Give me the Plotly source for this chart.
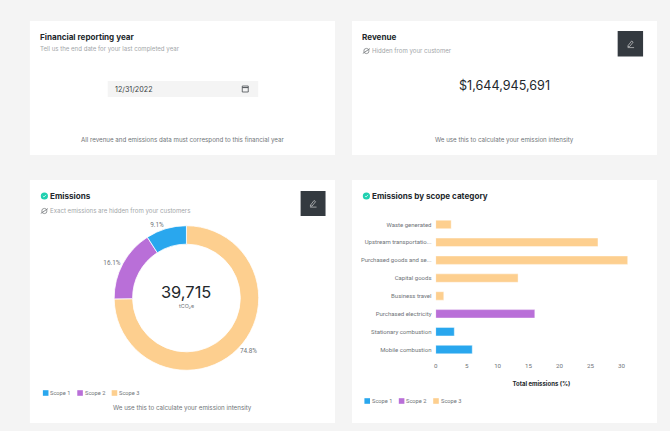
import plotly.graph_objects as go

W, H = 670, 431

scopes = ["Scope 1", "Scope 2", "Scope 3"]
scope_colors = ["#29a7ee", "#b96fd8", "#fdcf8f"]
scope_share = [9.1, 16.1, 74.8]

categories = ["Mobile combustion", "Stationary combustion", "Purchased electricity", "Business travel",
              "Capital goods", "Purchased goods and se...", "Upstream transportatio...", "Waste generated"]
scope1_cats = ["Mobile combustion", "Stationary combustion"]
scope1_vals = [5.9, 3.0]
scope2_cats = ["Purchased electricity"]
scope2_vals = [16.0]
scope3_cats = ["Business travel", "Capital goods", "Purchased goods and se...", "Upstream transportatio...", "Waste generated"]
scope3_vals = [1.3, 13.3, 31.0, 26.2, 2.5]

FONT = "Inter"
AXIS_FONT = "Roboto"
DARK = "#23282c"
GREY = "#6f7478"
LIGHT = "#a3a6a9"


def px(x):
    return (x - 1) / W


def py(y):
    return 1 - y / H


def rect(x0, y0, x1, y1, color):
    return dict(type="rect", xref="paper", yref="paper", x0=px(x0), x1=px(x1), y0=py(y0), y1=py(y1),
                fillcolor=color, line_width=0, layer="below")


def path(points, color, width=0.8, close=False, fill=None):
    d = "M " + " L ".join(f"{px(a):.5f},{py(b):.5f}" for a, b in points) + (" Z" if close else "")
    return dict(type="path", xref="paper", yref="paper", path=d, line=dict(color=color, width=width),
                fillcolor=fill, layer="above")


def circle(cx, cy, r, color, line=None):
    return dict(type="circle", xref="paper", yref="paper", x0=px(cx - r), x1=px(cx + r), y0=py(cy + r), y1=py(cy - r),
                fillcolor=color, line=dict(color=line or color, width=0.8 if line else 0), layer="above")


def label(x, y, s, size=6.2, color=GREY, anchor="left", bold=False, family=FONT):
    if anchor == "left":
        x -= 1
    return dict(xref="paper", yref="paper", x=px(x), y=py(y), text=f"<b>{s}</b>" if bold else s, showarrow=False,
                xanchor=anchor, yanchor="middle", font=dict(family=family, size=size, color=color),
                borderpad=0, borderwidth=0)


def pencil(cx, cy):
    return [path([(cx - 2.5, cy + 1.5), (cx + 1, cy - 3), (cx + 2.5, cy - 1.8), (cx - 1, cy + 2.5), (cx - 2.8, cy + 2.7)], "#e8e8e8", 0.6, True),
            path([(cx - 3, cy + 3.6), (cx + 3.5, cy + 3.6)], "#e8e8e8", 0.6)]


def hidden_eye(cx, cy):
    return [circle(cx, cy, 2.6, "rgba(0,0,0,0)", "#7d8184"),
            path([(cx - 3.6, cy + 2.4), (cx + 3.6, cy - 2.4)], "#7d8184", 0.9)]


def check(cx, cy):
    return [circle(cx, cy, 3.6, "#1fd0b0"),
            path([(cx - 1.5, cy), (cx - 0.4, cy + 1.1), (cx + 1.6, cy - 1.1)], "white", 0.7)]


shapes = [rect(-5, 0, W + 5, H, "#f4f4f4"),
          rect(29, 21, 335, 155, "white"), rect(352, 21, 658, 155, "white"),
          rect(29, 180, 335, 423, "white"), rect(352, 180, 658, 423, "white"),
          rect(107, 81, 258, 97, "#f4f4f4"),
          rect(618.5, 31, 644, 56.5, "#343a40"), rect(300.5, 191, 325.5, 216, "#343a40")]
shapes += pencil(631.5, 44) + pencil(313, 203.5)
shapes += hidden_eye(366.5, 51) + hidden_eye(43.5, 211)
shapes += check(43.5, 196) + check(366.5, 196)
# calendar icon
shapes += [path([(242, 86), (248, 86), (248, 92), (242, 92)], "#4a4f53", 0.8, True),
           path([(242, 87.6), (248, 87.6)], "#4a4f53", 1.0)]

annotations = [
    label(40, 36.5, "Financial reporting year", 8.1, DARK, bold=True),
    label(40, 48.7, "Tell us the end date for your last completed year", 6.1, LIGHT),
    label(115, 89, "12/31/2022", 7.2, "#3a3f43"),
    label(182, 140, "All revenue and emissions data must correspond to this financial year", 6.2, GREY, "center"),
    label(363, 36.5, "Revenue", 8.1, DARK, bold=True),
    label(373, 51, "Hidden from your customer", 6.1, LIGHT),
    label(505, 86, "$1,644,945,691", 12.6, DARK, "center"),
    label(505, 140, "We use this to calculate your emission intensity", 6.2, GREY, "center"),
    label(50, 196, "Emissions", 8.1, DARK, bold=True),
    label(50, 211, "Exact emissions are hidden from your customers", 6.1, LIGHT),
    label(186, 292, "39,715", 16.4, DARK, "center"),
    label(186, 306, "tCO₂e", 5.4, GREY, "center"),
    label(182, 408, "We use this to calculate your emission intensity", 6.2, GREY, "center"),
    label(373, 196, "Emissions by scope category", 8.1, DARK, bold=True),
]

# legends are drawn by hand, the swatches sit closer to the text than plotly's own
for left, top in [(42, 393), (364.5, 401)]:
    for i, (name, color) in enumerate(zip(scopes, scope_colors)):
        x = left + i * 34.5
        shapes.append(rect(x, top - 2.8, x + 5.6, top + 2.8, color))
        annotations.append(label(x + 8.4, top, name, 5.7, GREY, family=AXIS_FONT))

fig = go.Figure()

R = 72.5
fig.add_trace(go.Pie(
    labels=scopes[::-1], values=scope_share[::-1], hole=0.745, sort=False, direction="clockwise", rotation=0,
    marker=dict(colors=scope_colors[::-1], line=dict(color="white", width=0.8)),
    texttemplate="%{percent:.1%}", textposition="outside", textfont=dict(family=AXIS_FONT, size=6.4, color=GREY),
    showlegend=False, hoverinfo="label+percent", automargin=False,
    domain=dict(x=[px(186 - R), px(186 + R)], y=[py(298 + R), py(298 - R)]),
))

for name, color, cats, vals in zip(scopes, scope_colors,
                                   [scope1_cats, scope2_cats, scope3_cats],
                                   [scope1_vals, scope2_vals, scope3_vals]):
    fig.add_trace(go.Bar(x=vals, y=cats, orientation="h", name=name, showlegend=False,
                         marker=dict(color=color, line=dict(color="rgba(255,255,255,0.5)", width=0.8))))

fig.update_layout(
    width=W, height=H, margin=dict(l=0, r=0, t=0, b=0), autosize=False,
    paper_bgcolor="#f4f4f4", plot_bgcolor="rgba(0,0,0,0)",
    barmode="overlay", bargap=0.53,
    shapes=shapes, annotations=annotations,
    xaxis=dict(domain=[px(436), px(648)], range=[0, 34.13], tick0=0, dtick=5, showgrid=False, zeroline=False,
               showline=False, ticks="outside", ticklen=1, tickcolor="rgba(0,0,0,0)",
               tickfont=dict(family=AXIS_FONT, size=6.2, color=GREY),
               title=dict(text="<b>Total emissions (%)</b>", font=dict(family=FONT, size=6, color=DARK), standoff=12.5)),
    yaxis=dict(domain=[py(358.5), py(215.5)], categoryorder="array", categoryarray=categories, showgrid=False,
               zeroline=False, showline=False, ticks="outside", ticklen=2, tickcolor="rgba(0,0,0,0)",
               tickfont=dict(family=AXIS_FONT, size=6, color=GREY)),
)

fig.write_html("out.html", config=dict(displayModeBar=False),
               post_script="document.body.style.margin='0';document.body.style.overflow='hidden';")
